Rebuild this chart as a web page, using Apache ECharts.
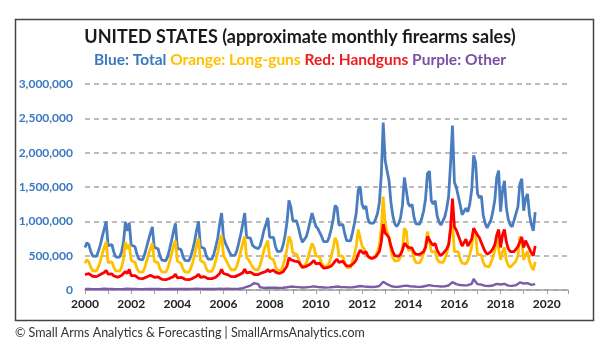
<!DOCTYPE html>
<html>
<head>
<meta charset="utf-8">
<script src="https://cdn.jsdelivr.net/npm/echarts@6/dist/echarts.min.js"></script>
<style>
html,body{margin:0;padding:0;background:#fff;}
#chart{width:600px;height:349px;}
</style>
</head>
<body>
<div id="chart"></div>
<script>
// Monthly values in thousands, Jan 2000 .. Jul 2019
const startYear = 2000;
const xTickYears = [2000, 2002, 2004, 2006, 2008, 2010, 2012, 2014, 2016, 2018, 2020];
const yTicks = [0, 500, 1000, 1500, 2000, 2500, 3000];

const totalK = [
  620, 690, 660, 560, 495, 470, 490, 570, 660, 780, 890, 1000,     // 2000
  645, 665, 660, 550, 480, 460, 480, 555, 695, 990, 860, 980,      // 2001
  655, 640, 630, 520, 450, 425, 440, 520, 625, 730, 830, 920,      // 2002
  620, 610, 600, 490, 435, 420, 425, 490, 600, 720, 850, 970,      // 2003
  610, 595, 585, 480, 430, 420, 425, 490, 590, 710, 870, 1000,     // 2004
  630, 615, 605, 505, 450, 435, 450, 525, 635, 760, 960, 1120,     // 2005
  760, 680, 680, 560, 505, 490, 505, 580, 695, 820, 960, 1120,     // 2006
  765, 745, 755, 655, 625, 615, 600, 640, 745, 870, 950, 1050,     // 2007
  765, 760, 765, 630, 560, 545, 565, 660, 795, 990, 1305, 1210,    // 2008
  1010, 985, 1005, 900, 780, 695, 705, 775, 875, 1000, 1120, 1100, // 2009
  925, 895, 915, 780, 705, 690, 705, 780, 890, 1035, 1230, 1200,   // 2010
  945, 925, 955, 820, 720, 700, 715, 830, 965, 1125, 1455, 1510,   // 2011
  1250, 1180, 1225, 1040, 975, 955, 975, 1030, 1110, 1270, 1675, 2440, // 2012
  1890, 1735, 1595, 1280, 1080, 965, 925, 970, 1050, 1235, 1640, 1625, // 2013
  1260, 1215, 1245, 1060, 965, 945, 960, 1040, 1150, 1330, 1695, 1730, // 2014
  1300, 1250, 1300, 1085, 990, 945, 970, 1065, 1190, 1365, 1840, 2395, // 2015
  1570, 1495, 1515, 1240, 1095, 1100, 1190, 1140, 1255, 1460, 1960, 1860, // 2016
  1405, 1340, 1370, 1085, 970, 905, 925, 1020, 1145, 1310, 1640, 1740, // 2017
  1140, 1445, 1590, 1200, 1025, 950, 920, 1015, 1030, 1210, 1540, 1620, // 2018
  1155, 1330, 1400, 1100, 955, 860, 1135                               // 2019
];

const longGunsK = [
  390, 440, 410, 330, 280, 265, 280, 340, 420, 530, 620, 700,   // 2000
  400, 420, 410, 330, 280, 260, 275, 330, 450, 700, 600, 660,   // 2001
  430, 420, 405, 315, 265, 250, 260, 320, 420, 520, 600, 680,   // 2002
  420, 405, 395, 305, 265, 255, 260, 315, 415, 525, 640, 720,   // 2003
  420, 400, 385, 300, 260, 255, 260, 315, 405, 510, 650, 750,   // 2004
  430, 410, 395, 315, 270, 260, 270, 335, 435, 550, 700, 800,   // 2005
  500, 450, 435, 340, 295, 285, 295, 355, 455, 570, 680, 780,   // 2006
  470, 440, 430, 340, 300, 285, 295, 360, 465, 580, 650, 720,   // 2007
  470, 450, 440, 340, 285, 275, 285, 360, 470, 600, 780, 720,   // 2008
  540, 520, 520, 450, 370, 330, 335, 390, 480, 580, 680, 620,   // 2009
  500, 480, 480, 390, 350, 340, 345, 400, 500, 610, 760, 700,   // 2010
  500, 490, 490, 400, 330, 320, 325, 420, 520, 640, 880, 870,   // 2011
  640, 600, 610, 500, 460, 450, 460, 500, 560, 650, 900, 1360,  // 2012
  960, 850, 760, 580, 470, 420, 400, 430, 480, 600, 900, 860,   // 2013
  580, 560, 580, 460, 400, 390, 395, 450, 540, 650, 850, 860,   // 2014
  560, 540, 560, 450, 410, 395, 400, 450, 530, 640, 860, 950,   // 2015
  560, 540, 560, 450, 390, 370, 380, 430, 520, 630, 900, 820,   // 2016
  520, 500, 510, 400, 350, 330, 335, 400, 480, 580, 750, 760,   // 2017
  440, 560, 620, 430, 360, 330, 320, 390, 420, 500, 780, 720,   // 2018
  440, 520, 560, 420, 340, 290, 410                             // 2019
];

const handgunsK = [
  225, 240, 240, 215, 200, 190, 195, 215, 225, 235, 255, 285,   // 2000
  230, 230, 235, 205, 185, 185, 190, 210, 230, 270, 240, 300,   // 2001
  210, 205, 210, 190, 170, 160, 165, 185, 190, 195, 215, 225,   // 2002
  185, 190, 190, 170, 155, 150, 150, 160, 170, 180, 195, 230,   // 2003
  175, 180, 185, 165, 155, 150, 150, 160, 170, 185, 200, 230,   // 2004
  185, 190, 195, 175, 165, 160, 165, 175, 185, 195, 240, 300,   // 2005
  240, 215, 225, 205, 195, 190, 195, 210, 220, 230, 250, 305,   // 2006
  250, 250, 260, 235, 225, 220, 225, 240, 250, 260, 270, 300,   // 2007
  265, 275, 290, 260, 245, 240, 250, 265, 290, 350, 470, 440,   // 2008
  420, 420, 440, 410, 370, 330, 335, 345, 355, 375, 390, 430,   // 2009
  380, 370, 390, 350, 320, 315, 325, 340, 350, 380, 420, 450,   // 2010
  400, 390, 420, 380, 350, 340, 350, 370, 400, 440, 520, 580,   // 2011
  560, 530, 560, 490, 470, 460, 470, 480, 500, 560, 700, 960,   // 2012
  830, 800, 760, 640, 560, 500, 480, 490, 520, 580, 680, 700,   // 2013
  620, 600, 610, 550, 520, 510, 520, 540, 560, 620, 780, 800,   // 2014
  680, 650, 680, 580, 530, 500, 520, 560, 600, 660, 900, 1330,  // 2015
  920, 870, 870, 720, 640, 660, 740, 640, 660, 740, 900, 920,   // 2016
  800, 760, 780, 620, 560, 520, 530, 560, 600, 660, 800, 880,   // 2017
  620, 800, 880, 700, 600, 560, 540, 560, 540, 630, 650, 770,   // 2018
  620, 720, 740, 600, 540, 500, 640                             // 2019
];

const otherK = [
  14, 15, 15, 14, 13, 13, 13, 14, 15, 16, 18, 18,   // 2000
  15, 15, 15, 14, 13, 13, 13, 14, 15, 18, 18, 18,   // 2001
  15, 15, 15, 14, 13, 13, 13, 14, 15, 16, 17, 17,   // 2002
  15, 15, 15, 14, 13, 13, 13, 14, 15, 16, 17, 18,   // 2003
  15, 15, 16, 15, 14, 14, 14, 15, 16, 17, 18, 19,   // 2004
  16, 16, 17, 15, 15, 14, 15, 16, 17, 18, 19, 20,   // 2005
  17, 17, 18, 16, 16, 15, 16, 17, 18, 20, 28, 35,   // 2006
  45, 55, 65, 80, 100, 110, 85, 40, 30, 30, 32, 33, // 2007
  32, 33, 34, 32, 31, 30, 31, 33, 35, 40, 55, 50,   // 2008
  48, 46, 47, 42, 38, 36, 37, 40, 42, 45, 50, 52,   // 2009
  45, 43, 44, 40, 37, 35, 36, 38, 40, 43, 48, 50,   // 2010
  45, 44, 46, 42, 40, 38, 39, 41, 44, 47, 53, 58,   // 2011
  52, 52, 55, 48, 45, 44, 46, 48, 52, 58, 75, 120,  // 2012
  100, 85, 75, 58, 50, 46, 46, 48, 52, 56, 62, 64,  // 2013
  58, 55, 57, 50, 46, 45, 46, 48, 52, 58, 66, 70,   // 2014
  62, 60, 62, 56, 52, 50, 52, 55, 60, 66, 80, 115,  // 2015
  90, 85, 86, 72, 66, 68, 72, 70, 74, 90, 160, 120, // 2016
  85, 78, 80, 66, 60, 57, 58, 62, 66, 72, 90, 100,  // 2017
  80, 85, 90, 72, 64, 60, 60, 65, 70, 78, 110, 130, // 2018
  95, 92, 100, 82, 75, 72, 85                       // 2019
];

const seriesNames = ['Total', 'Long-guns', 'Handguns', 'Other'];
const seriesColors = ['#4a7dc0', '#ffc000', '#ff0000', '#7d5aa6'];

function toPoints(arr) {
  return arr.map((v, i) => [startYear + i / 12, v]);
}

const chart = echarts.init(document.getElementById('chart'), null, {renderer: 'canvas'});
const F = 'Lato, "Open Sans", sans-serif';

chart.setOption({
  animation: false,
  backgroundColor: '#ffffff',
  title: [
    {
      text: 'UNITED STATES (approximate monthly firearms sales)',
      left: 'center', top: 23,
      textStyle: {fontFamily: F, fontSize: 18, fontWeight: 'bold', color: '#1a1a1a'}
    },
    {
      text: '{b|Blue: Total} {o|Orange: Long-guns} {r|Red: Handguns} {p|Purple: Other}',
      left: 'center', top: 47,
      textStyle: {
        fontFamily: F, fontSize: 15.5, fontWeight: 'bold',
        rich: {
          b: {color: '#3a78c2', fontFamily: F, fontSize: 15.5, fontWeight: 'bold'},
          o: {color: '#ffc000', fontFamily: F, fontSize: 15.5, fontWeight: 'bold'},
          r: {color: '#ee1c1c', fontFamily: F, fontSize: 15.5, fontWeight: 'bold'},
          p: {color: '#7a4fa8', fontFamily: F, fontSize: 15.5, fontWeight: 'bold'}
        }
      }
    }
  ],
  grid: {left: 85, right: 32, top: 84, bottom: 59, containLabel: false},
  xAxis: {
    type: 'value',
    min: 2000, max: 2020.92, interval: 1,
    axisLine: {show: true, lineStyle: {color: '#a0a0a0', width: 1.5}},
    axisTick: {show: true, length: 4, lineStyle: {color: '#a0a0a0', width: 1}},
    splitLine: {show: false},
    axisLabel: {
      fontFamily: F, fontSize: 12, fontWeight: 'bold', color: '#222', margin: 8,
      formatter: v => xTickYears.indexOf(Math.round(v)) >= 0 && Math.abs(v - Math.round(v)) < 1e-6 ? String(Math.round(v)) : ''
    }
  },
  yAxis: {
    type: 'value',
    min: yTicks[0], max: yTicks[yTicks.length - 1], interval: 500,
    axisLine: {show: false},
    axisTick: {show: false},
    splitLine: {show: true, lineStyle: {color: '#a6a6a6', type: [5, 4], width: 1.5}},
    axisLabel: {
      fontFamily: F, fontSize: 12, fontWeight: 'bold', color: '#3a78c2', margin: 12,
      formatter: v => (v * 1000).toLocaleString('en-US')
    }
  },
  series: [
    {name: seriesNames[0], type: 'line', data: toPoints(totalK), showSymbol: false, lineStyle: {color: seriesColors[0], width: 2.8}, z: 2},
    {name: seriesNames[1], type: 'line', data: toPoints(longGunsK), showSymbol: false, lineStyle: {color: seriesColors[1], width: 2.8}, z: 3},
    {name: seriesNames[2], type: 'line', data: toPoints(handgunsK), showSymbol: false, lineStyle: {color: seriesColors[2], width: 2.8}, z: 4},
    {name: seriesNames[3], type: 'line', data: toPoints(otherK), showSymbol: false, lineStyle: {color: seriesColors[3], width: 2.4}, z: 5}
  ],
  graphic: [
    {type: 'rect', left: 13, top: 17, shape: {width: 578, height: 301}, style: {fill: 'none', stroke: '#444', lineWidth: 1.5}, silent: true},
    {type: 'text', left: 15, top: 326, style: {text: '© Small Arms Analytics & Forecasting | SmallArmsAnalytics.com', fontFamily: F, fontSize: 12.5, fill: '#333'}}
  ]
});
</script>
</body>
</html>
